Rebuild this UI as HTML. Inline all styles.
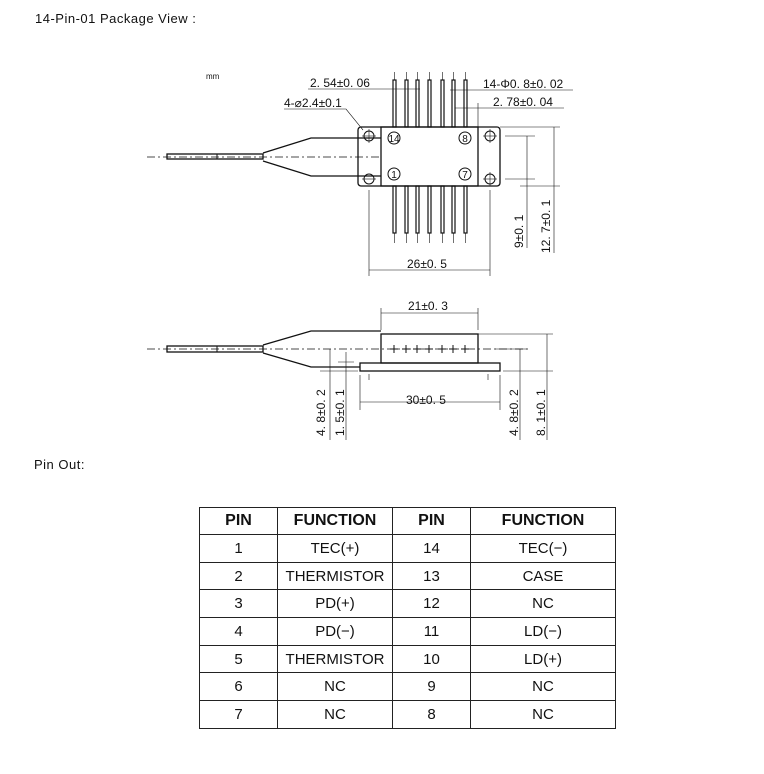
<!DOCTYPE html>
<html><head><style>
body{margin:0;background:#fff;width:764px;height:774px;position:relative;font-family:"Liberation Sans",sans-serif;overflow:hidden}
.t{position:absolute;font-size:13px;color:#111;letter-spacing:0.5px}
table{position:absolute;left:199px;top:507px;width:416px;table-layout:fixed;border-collapse:collapse;font-size:15px;color:#111}
td{border:1px solid #222;text-align:center;height:26.7px;padding:0;white-space:nowrap}
th{border:1px solid #222;height:26px;font-size:16px;font-weight:bold;padding:0}
</style></head><body>
<div class="t" style="left:35px;top:11px">14-Pin-01 Package View :</div>
<div class="t" style="left:34px;top:457px">Pin Out:</div>
<svg width="764" height="774" style="position:absolute;left:0;top:0" font-family="Liberation Sans,sans-serif" fill="none" stroke="#111" stroke-width="1">
<g fill="#111" stroke="none" font-size="12">
<text x="206" y="79" font-size="8">mm</text>
<text x="310" y="87">2. 54±0. 06</text>
<text x="284" y="107">4-⌀2.4±0.1</text>
<text x="483" y="88">14-Φ0. 8±0. 02</text>
<text x="493" y="106">2. 78±0. 04</text>
<text x="407" y="268">26±0. 5</text>
<text x="408" y="310">21±0. 3</text>
<text x="406" y="404">30±0. 5</text>
<text transform="translate(523,248) rotate(-90)">9±0. 1</text>
<text transform="translate(550,253) rotate(-90)">12. 7±0. 1</text>
<text transform="translate(325,436) rotate(-90)">4. 8±0. 2</text>
<text transform="translate(344,436) rotate(-90)">1. 5±0. 1</text>
<text transform="translate(518,436) rotate(-90)">4. 8±0. 2</text>
<text transform="translate(545,436) rotate(-90)">8. 1±0. 1</text>
</g>
<line x1="147" y1="157" x2="381" y2="157" stroke-dasharray="8,3,2,3" stroke-width="0.7"/>
<rect x="167" y="154" width="96" height="5" stroke-width="1.3"/>
<line x1="217" y1="154" x2="217" y2="159"/>
<path d="M263 153 L311 138 L381 138 M263 161 L311 176 L381 176" stroke-width="1.3"/>
<rect x="358" y="127" width="142" height="59" rx="3" stroke-width="1.3"/>
<rect x="381" y="127" width="97" height="59" stroke-width="1.3"/>
<circle cx="369" cy="136" r="5"/><circle cx="369" cy="179" r="5"/>
<circle cx="490" cy="136" r="5"/><circle cx="490" cy="179" r="5"/>
<g stroke-width="0.6"><line x1="362" y1="136" x2="376" y2="136"/><line x1="369" y1="129" x2="369" y2="143"/><line x1="362" y1="179" x2="376" y2="179"/><line x1="483" y1="136" x2="497" y2="136"/><line x1="490" y1="129" x2="490" y2="143"/><line x1="483" y1="179" x2="497" y2="179"/><line x1="490" y1="172" x2="490" y2="186"/></g>
<circle cx="394" cy="138" r="6"/><circle cx="394" cy="174" r="6"/><circle cx="465" cy="138" r="6"/><circle cx="465" cy="174" r="6"/>
<g fill="#111" stroke="none" font-size="10" text-anchor="middle"><text x="394" y="142">14</text><text x="394" y="178">1</text><text x="465" y="142">8</text><text x="465" y="178">7</text></g>
<g stroke-width="1.2">
<rect x="393" y="80" width="3" height="47"/><rect x="405" y="80" width="3" height="47"/><rect x="416" y="80" width="3" height="47"/><rect x="428" y="80" width="3" height="47"/><rect x="441" y="80" width="3" height="47"/><rect x="452" y="80" width="3" height="47"/><rect x="464" y="80" width="3" height="47"/>
<rect x="393" y="186" width="3" height="47"/><rect x="405" y="186" width="3" height="47"/><rect x="416" y="186" width="3" height="47"/><rect x="428" y="186" width="3" height="47"/><rect x="441" y="186" width="3" height="47"/><rect x="452" y="186" width="3" height="47"/><rect x="464" y="186" width="3" height="47"/>
</g>
<g stroke-width="0.6">
<path d="M394.5 72V80M406.5 72V80M417.5 72V80M429.5 72V80M442.5 72V80M453.5 72V80M465.5 72V80"/>
<path d="M394.5 233V243M406.5 233V243M417.5 233V243M429.5 233V243M442.5 233V243M453.5 233V243M465.5 233V243"/>
<path d="M308 89H420M450 90H573M455 108H564M478 103V127M369 190V276M490 190V276M369 270H490"/>
<path d="M284 109H346L363 130"/>
<path d="M500 127H560M505 136H535M505 179H535M520 186H560M527 136V248M554 127V253"/>
</g>
<line x1="147" y1="349" x2="530" y2="349" stroke-dasharray="8,3,2,3" stroke-width="0.7"/>
<rect x="167" y="346" width="96" height="6" stroke-width="1.3"/>
<line x1="217" y1="346" x2="217" y2="352"/>
<path d="M263 345 L311 331 L381 331 M263 353 L311 367 L360 367" stroke-width="1.3"/>
<rect x="381" y="334" width="97" height="29" stroke-width="1.3"/>
<rect x="360" y="363" width="140" height="8" stroke-width="1.3"/>
<g stroke-width="1"><path d="M394 345V353M390 349H398M406 345V353M402 349H410M417 345V353M413 349H421M429 345V353M425 349H433M442 345V353M438 349H446M453 345V353M449 349H457M465 345V353M461 349H469"/></g>
<g stroke-width="0.6">
<path d="M381 330V308M478 330V308M381 313H478M360 375V410M500 375V410M360 402H500"/>
<path d="M478 334H553M495 349H527M503 371H553M320 371H358M330 349V440M346 352V440M338 362H354M369 374V380M488 374V380M520 349V440M547 334V440"/>
</g>
</svg>
<table>
<colgroup><col style="width:78px"><col style="width:115px"><col style="width:78px"><col style="width:145px"></colgroup>
<tr><th>PIN</th><th>FUNCTION</th><th>PIN</th><th>FUNCTION</th></tr>
<tr><td>1</td><td>TEC(+)</td><td>14</td><td>TEC(−)</td></tr>
<tr><td>2</td><td>THERMISTOR</td><td>13</td><td>CASE</td></tr>
<tr><td>3</td><td>PD(+)</td><td>12</td><td>NC</td></tr>
<tr><td>4</td><td>PD(−)</td><td>11</td><td>LD(−)</td></tr>
<tr><td>5</td><td>THERMISTOR</td><td>10</td><td>LD(+)</td></tr>
<tr><td>6</td><td>NC</td><td>9</td><td>NC</td></tr>
<tr><td>7</td><td>NC</td><td>8</td><td>NC</td></tr>
</table>
</body></html>
